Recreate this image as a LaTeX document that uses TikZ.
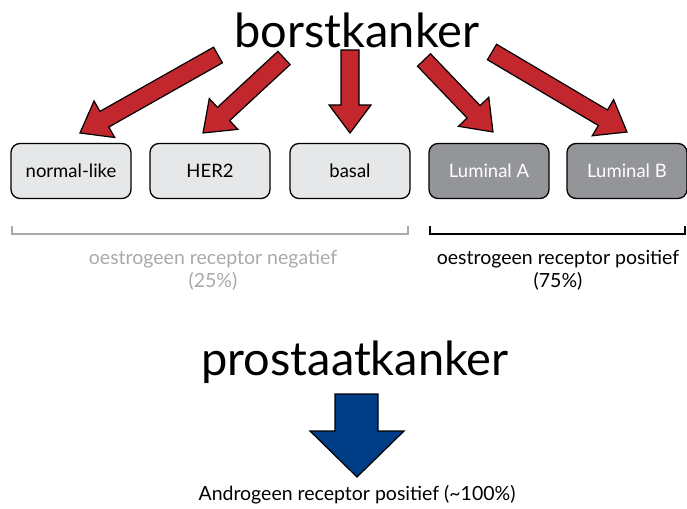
\documentclass[tikz,border=0pt]{standalone}
\usepackage{fontspec}
\setmainfont{Lato}
\usetikzlibrary{calc}
\definecolor{arrred}{RGB}{193,39,45}
\definecolor{arrblue}{RGB}{0,61,135}
\definecolor{boxlight}{RGB}{230,231,232}
\definecolor{boxdark}{RGB}{147,149,152}
\definecolor{txtgray}{RGB}{167,169,172}
\tikzset{
  subtype/.style={draw=black, line width=1.3pt, rounded corners=9pt, minimum width=120pt, minimum height=55pt, font=\fontsize{18.5}{20}\selectfont, inner sep=0pt},
  lightbox/.style={subtype, fill=boxlight, text=black},
  darkbox/.style={subtype, fill=boxdark, text=white},
  redarr/.style={fill=arrred, draw=black, line width=1.2pt, line join=miter},
  bluearr/.style={fill=arrblue, draw=black, line width=1.2pt, line join=miter},
  bigtitle/.style={font=\fontsize{47}{50}\selectfont, inner sep=0pt},
  caption/.style={font=\fontsize{19.5}{23}\selectfont, align=center, inner sep=0pt},
}
% #1 style, (#2,#3) tail centre, (#4,#5) tip; y axis points down
\newcommand\fatarrow[5]{%
  \pgfmathsetmacro\fang{atan2(-(#5-#3),#4-#2)}%
  \pgfmathsetmacro\flen{veclen(#4-#2,#5-#3)}%
  \begin{scope}[shift={(#2,#3)},rotate=\fang]
    \draw[#1] (0,9) -- ({\flen-28},9) -- ({\flen-28},21) -- (\flen,0) -- ({\flen-28},-21) -- ({\flen-28},-9) -- (0,-9) -- cycle;
  \end{scope}}
\begin{document}
\begin{tikzpicture}[x=1pt,y=-1pt]
\useasboundingbox (0,0) rectangle (687,508);
\node[bigtitle] (borst) at (357,30) {borstkanker};
\node[lightbox] (normal) at (71,171) {normal-like};
\node[lightbox] (her2) at (210,171) {HER2};
\node[lightbox] (basal) at (350,171) {basal};
\node[darkbox] (luma) at (489,171) {Luminal A};
\node[darkbox] (lumb) at (627,171) {Luminal B};
\fatarrow{redarr}{218}{55}{80}{133}
\fatarrow{redarr}{284}{58}{203}{133}
\fatarrow{redarr}{350}{50}{350}{133}
\fatarrow{redarr}{424}{60}{493}{132}
\fatarrow{redarr}{492}{52}{627}{132}
\draw[txtgray, line width=1.3pt] (12,226) -- (12,234) -- (408,234) -- (408,226);
\draw[black, line width=1.3pt] (430,226) -- (430,234) -- (685,234) -- (685,226);
\node[caption, text=txtgray] (neg) at (213,270) {oestrogeen receptor negatief\\(25\%)};
\node[caption] (pos) at (558,270) {oestrogeen receptor positief\\(75\%)};
\node[bigtitle] (prost) at (355,362) {prostaatkanker};
\draw[bluearr] (335,394) -- (378,394) -- (378,431) -- (404,431) -- (357,477) -- (310,431) -- (335,431) -- cycle;
\node[caption] (andro) at (357,495) {Androgeen receptor positief (\textasciitilde100\%)};
\end{tikzpicture}
\end{document}
